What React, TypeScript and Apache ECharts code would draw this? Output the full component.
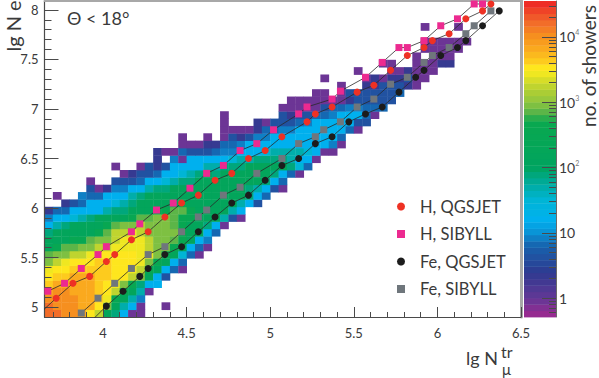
import React, { useEffect, useRef } from "react";
import * as echarts from "echarts";

const FONT = "Lato";
const TEXT = "#3a3a3a";

// Heat map: one string per row from the bottom, one letter per column, "." for an empty bin.
const heatRows: string[] = [
  "ttssrpnjifaa",
  "tsssrrpmjhfa..a",
  "ssssrrqokjhe",
  "rssrrrqpnkjha",
  "qrrrrrqpomkiff",
  "pqqrrrqqppnmjfc",
  "oppqqqqqpponkjfda",
  "mnopppqqpppomkjfd",
  "lmmnnopppppoomkjgda",
  "jkllmmnnoooonmmkjfda",
  "jjjkklmmnooonmmlkjfe",
  "ijjjjjklnnonmmmmkjjfd",
  "fhijjjjklmmnmmmlkjjifa",
  "effghijjjjkllmmlkkjjjhca",
  "bddffffhiijjjkkllkjjjjhf",
  "..bcdfffghijjjjjkjjjjjjhfc",
  ".a..eddfffhijjjjjjjjjjjjifd",
  ".....cabeeffhiijjjjjjjjjihfca",
  ".....a..cccdffghiijjjjjjjjifd",
  ".........abccdffghijijjjjjjifda",
  "........a..acbcffffhhiiijjjjjigd",
  ".............b.eafffffghhiiiihffa",
  ".............baadcccdeefffghhhhgfaa",
  "................aaabbddeffffffffffea",
  "................a..a.acbceeffffffffd",
  ".....................aaaabddeeffffffda",
  ".....................a...bacccdefffffcc",
  ".....................a......cbccddefffda",
  "............................aaaaacddeeddd",
  ".............................aaaaaaabccccc",
  "................................aa.accccccd",
  "...................................a..bbcccba",
  ".................................a....ababbcaa",
  ".....................................a...aabaaa",
  "........................................aa..aaabb",
  "............................................a.aaa",
  ".............................................aaaaa",
  ".............................................aaaaaa",
  "",
  ".............................................a...a",
];
const levelKeys = "abcdefghijklmnopqrst";
const levelCounts = [1, 2, 4, 6, 9, 16, 30, 50, 80, 150, 400, 700, 1000, 1600, 2500, 3200, 4500, 7000, 10000, 18000];

const H_QGS: number[][] = [
  [3.647, 4.977], [3.72, 5.09], [3.82, 5.24], [3.92, 5.31], [4.02, 5.46], [4.07, 5.53], [4.17, 5.68], [4.27, 5.76],
  [4.37, 5.91], [4.47, 6.05], [4.57, 6.13], [4.67, 6.28], [4.77, 6.35], [4.87, 6.5], [4.97, 6.58], [5.07, 6.72],
  [5.22, 6.87], [5.27, 6.95], [5.37, 7.02], [5.52, 7.17], [5.62, 7.24], [5.72, 7.39], [5.82, 7.54], [5.92, 7.62],
  [5.97, 7.69], [6.07, 7.76], [6.17, 7.91], [6.27, 7.99], [6.32, 8.06],
];
const H_SIB: number[][] = [
  [3.67, 5.16], [3.77, 5.24], [3.87, 5.39], [3.97, 5.53], [4.02, 5.61], [4.17, 5.76], [4.22, 5.84], [4.32, 5.98],
  [4.42, 6.05], [4.52, 6.2], [4.62, 6.35], [4.72, 6.43], [4.82, 6.58], [4.92, 6.65], [5.02, 6.79], [5.17, 6.95],
  [5.22, 7.02], [5.37, 7.1], [5.42, 7.18], [5.57, 7.32], [5.67, 7.47], [5.77, 7.62], [5.82, 7.62], [5.92, 7.69],
  [6.02, 7.84], [6.12, 7.91], [6.22, 8.06], [6.27, 8.06],
];
const FE_QGS: number[][] = [
  [3.93, 4.86], [4.02, 5.01], [4.12, 5.16], [4.22, 5.31], [4.27, 5.39], [4.37, 5.53], [4.47, 5.61], [4.57, 5.76],
  [4.67, 5.91], [4.77, 6.05], [4.87, 6.13], [4.97, 6.28], [5.07, 6.43], [5.17, 6.5], [5.27, 6.65], [5.37, 6.72],
  [5.47, 6.87], [5.57, 6.95], [5.67, 7.02], [5.77, 7.17], [5.87, 7.32], [5.92, 7.39], [6.02, 7.54], [6.12, 7.62],
  [6.17, 7.69], [6.27, 7.84], [6.37, 7.99],
];
const FE_SIB: number[][] = [
  [3.87, 4.94], [3.97, 5.09], [4.07, 5.24], [4.17, 5.39], [4.27, 5.53], [4.37, 5.61], [4.47, 5.76], [4.57, 5.91],
  [4.62, 5.98], [4.72, 6.13], [4.82, 6.21], [4.92, 6.35], [5.07, 6.5], [5.17, 6.65], [5.27, 6.72], [5.32, 6.79],
  [5.42, 6.87], [5.52, 7.02], [5.62, 7.1], [5.72, 7.25], [5.82, 7.32], [5.92, 7.47], [5.97, 7.54], [6.07, 7.62],
  [6.17, 7.76], [6.22, 7.84], [6.32, 7.99],
];

const xMajor = [4, 4.5, 5, 5.5, 6, 6.5];
const xMinor = [3.7, 3.8, 3.9, 4.1, 4.2, 4.3, 4.4, 4.6, 4.7, 4.8, 4.9, 5.1, 5.2, 5.3, 5.4, 5.6, 5.7, 5.8, 5.9, 6.1, 6.2, 6.3, 6.4];
const yMajor = [5, 5.5, 6, 6.5, 7, 7.5, 8];
const yMinor = [4.9, 5.1, 5.2, 5.3, 5.4, 5.6, 5.7, 5.8, 5.9, 6.1, 6.2, 6.3, 6.4, 6.6, 6.7, 6.8, 6.9, 7.1, 7.2, 7.3, 7.4, 7.6, 7.7, 7.8, 7.9];

const barMajor = [0, 1, 2, 3, 4];
const barMinorCounts = [
  0.6, 0.7, 0.8, 0.9, 2, 3, 4, 5, 6, 7, 8, 9, 20, 30, 40, 50, 60, 70, 80, 90, 200, 300, 400, 500, 600, 700, 800, 900,
  2000, 3000, 4000, 5000, 6000, 7000, 8000, 9000, 20000, 30000,
];
// Colour bar stops: [lg(count), r, g, b]
const barStops: number[][] = [
  [-0.29, 160, 40, 143], [0, 98, 56, 150], [0.4, 46, 58, 144], [0.8, 23, 99, 173], [1.0, 10, 146, 213], [1.2, 0, 176, 239],
  [1.5, 0, 181, 213], [1.75, 0, 171, 159], [2.0, 0, 164, 95], [2.7, 10, 168, 79], [2.85, 90, 180, 72], [3.0, 143, 197, 63],
  [3.2, 180, 208, 50], [3.4, 230, 226, 35], [3.5, 255, 240, 30], [3.62, 253, 205, 30], [3.8, 250, 172, 30], [4.0, 246, 146, 30],
  [4.25, 241, 102, 43], [4.55, 237, 34, 36],
];
const BAND_COUNT = 50;
const LG_MIN = -0.29;
const LG_MAX = 4.55;

const X_MIN = 3.65;
const X_MAX = 6.5;
const Y_MIN = 4.9;
const Y_MAX = 8.09;
const BIN_W = 0.05;
const BIN_H = (Y_MAX - Y_MIN) / 43;

function colorOf(lg: number): string {
  const s = barStops;
  let i = 0;
  while (i < s.length - 2 && lg > s[i + 1][0]) i++;
  const t = Math.min(1, Math.max(0, (lg - s[i][0]) / (s[i + 1][0] - s[i][0])));
  const c = [1, 2, 3].map((k) => Math.round(s[i][k] + (s[i + 1][k] - s[i][k]) * t));
  return `rgb(${c[0]},${c[1]},${c[2]})`;
}
function bandIndex(lg: number): number {
  return Math.min(BAND_COUNT - 1, Math.max(0, Math.floor(((lg - LG_MIN) / (LG_MAX - LG_MIN)) * BAND_COUNT)));
}
function bandColor(i: number): string {
  return colorOf(LG_MIN + ((i + 0.5) * (LG_MAX - LG_MIN)) / BAND_COUNT);
}

const heatCells: number[][] = [];
heatRows.forEach((row, r) => {
  for (let c = 0; c < row.length; c++) {
    const idx = levelKeys.indexOf(row[c]);
    if (idx >= 0) heatCells.push([X_MIN + c * BIN_W, Y_MIN + r * BIN_H, levelCounts[idx]]);
  }
});
const barBands: number[][] = [];
for (let i = 0; i < BAND_COUNT; i++) barBands.push([i]);

const tickLine = { show: true, lineStyle: { color: "#4a4a4a", width: 1 } };

function lineSeries(name: string, data: number[][], symbol: string, color: string, z: number) {
  return {
    name, type: "line", data, symbol, symbolSize: 7, showSymbol: true, z,
    xAxisIndex: 0, yAxisIndex: 0, clip: true, silent: true,
    lineStyle: { color: "#2a2a2a", width: 0.8 },
    itemStyle: { color, borderWidth: 0 },
  };
}

export default function App() {
  const ref = useRef<HTMLDivElement>(null);
  useEffect(() => {
    if (!ref.current) return;
    const chart = echarts.init(ref.current, undefined, { renderer: "svg" });
    chart.setOption({
      animation: false,
      backgroundColor: "#ffffff",
      textStyle: { fontFamily: FONT },
      grid: [
        { left: 44.5, top: 1, width: 476.5, height: 316 },
        { left: 524, top: 1, width: 32, height: 316 },
      ],
      xAxis: [
        {
          type: "value", gridIndex: 0, min: X_MIN, max: X_MAX, position: "bottom", z: 2, splitLine: { show: false },
          axisLine: { show: true, onZero: false, lineStyle: { color: "#4a4a4a", width: 1.2 } },
          axisTick: { ...tickLine, inside: true, length: 10, customValues: xMajor },
          axisLabel: { customValues: xMajor, margin: 9, fontSize: 13, color: TEXT, fontFamily: FONT, showMaxLabel: true },
        },
        {
          type: "value", gridIndex: 0, min: X_MIN, max: X_MAX, position: "bottom", z: 2, splitLine: { show: false },
          axisLine: { show: false, onZero: false },
          axisTick: { ...tickLine, inside: true, length: 5, customValues: xMinor },
          axisLabel: { show: false },
        },
        {
          type: "value", gridIndex: 0, min: X_MIN, max: X_MAX, position: "top", z: 2, splitLine: { show: false },
          axisLine: { show: true, onZero: false, lineStyle: { color: "#a8a8a8", width: 2 } },
          axisTick: { show: false }, axisLabel: { show: false },
        },
        { type: "value", gridIndex: 1, min: 0, max: BAND_COUNT, show: false },
      ],
      yAxis: [
        {
          type: "value", gridIndex: 0, min: Y_MIN, max: Y_MAX, position: "left", z: 2, splitLine: { show: false },
          axisLine: { show: true, onZero: false, lineStyle: { color: "#4a4a4a", width: 1.2 } },
          axisTick: { ...tickLine, inside: true, length: 14, customValues: yMajor },
          axisLabel: { customValues: yMajor, margin: 6, fontSize: 13, color: TEXT, fontFamily: FONT },
        },
        {
          type: "value", gridIndex: 0, min: Y_MIN, max: Y_MAX, position: "left", z: 2, splitLine: { show: false },
          axisLine: { show: false, onZero: false },
          axisTick: { ...tickLine, inside: true, length: 7, customValues: yMinor },
          axisLabel: { show: false },
        },
        {
          type: "value", gridIndex: 0, min: Y_MIN, max: Y_MAX, position: "right", z: 2, splitLine: { show: false },
          axisLine: { show: true, onZero: false, lineStyle: { color: "#a8a8a8", width: 3 } },
          axisTick: { show: false }, axisLabel: { show: false },
        },
        {
          type: "value", gridIndex: 1, min: LG_MIN, max: LG_MAX, position: "right", z: 2, splitLine: { show: false },
          axisLine: { show: true, onZero: false, lineStyle: { color: "#6a6a6a", width: 1 } },
          axisTick: { ...tickLine, inside: true, length: 14, customValues: barMajor },
          axisLabel: {
            customValues: barMajor, margin: 3, fontSize: 14, color: TEXT, fontFamily: FONT,
            formatter: (v: number) => (v === 0 ? "1" : v === 1 ? "10" : `10{sup|${v}}`),
            rich: { sup: { fontSize: 7, color: "#777", fontFamily: FONT, verticalAlign: "top", padding: [0, 0, 9, 0] } },
          },
        },
        {
          type: "value", gridIndex: 1, min: LG_MIN, max: LG_MAX, position: "right", z: 2, splitLine: { show: false },
          axisLine: { show: false, onZero: false },
          axisTick: { ...tickLine, inside: true, length: 7, customValues: barMinorCounts.map((n) => Math.log10(n)) },
          axisLabel: { show: false },
        },
      ],
      legend: {
        orient: "vertical", left: 397, top: 198, padding: 0, itemWidth: 8, itemHeight: 8, itemGap: 10.5,
        selectedMode: false,
        textStyle: { fontFamily: FONT, fontSize: 16.5, color: TEXT, padding: [0, 0, 0, 10] },
        data: [
          { name: "H, QGSJET", icon: "circle" },
          { name: "H, SIBYLL", icon: "rect" },
          { name: "Fe, QGSJET", icon: "circle" },
          { name: "Fe, SIBYLL", icon: "rect" },
        ],
      },
      series: [
        {
          type: "custom", xAxisIndex: 0, yAxisIndex: 0, z: 1, silent: true, clip: true, data: heatCells,
          encode: { x: 0, y: 1 },
          renderItem: (_p: any, api: any) => {
            const x = api.value(0), y = api.value(1);
            const a = api.coord([x, y + BIN_H]);
            const b = api.coord([x + BIN_W, y]);
            const lg = Math.log10(api.value(2));
            return {
              type: "rect",
              shape: { x: a[0], y: a[1], width: b[0] - a[0] + 0.4, height: b[1] - a[1] + 0.4 },
              style: { fill: bandColor(bandIndex(lg)) },
            };
          },
        },
        {
          type: "custom", xAxisIndex: 3, yAxisIndex: 3, z: 1, silent: true, data: barBands,
          encode: { y: 0 },
          renderItem: (_p: any, api: any) => {
            const i = api.value(0);
            const step = (LG_MAX - LG_MIN) / BAND_COUNT;
            const a = api.coord([0, LG_MIN + (i + 1) * step]);
            const b = api.coord([BAND_COUNT, LG_MIN + i * step]);
            return {
              type: "rect",
              shape: { x: a[0], y: a[1], width: b[0] - a[0], height: b[1] - a[1] + 0.4 },
              style: { fill: bandColor(i) },
            };
          },
        },
        lineSeries("H, SIBYLL", H_SIB, "rect", "#ec2a90", 3),
        lineSeries("Fe, SIBYLL", FE_SIB, "rect", "#6f767c", 3),
        lineSeries("H, QGSJET", H_QGS, "circle", "#ee3124", 4),
        lineSeries("Fe, QGSJET", FE_QGS, "circle", "#1c1c1c", 4),
      ],
      graphic: [
        { type: "text", x: 67, y: 18, silent: true, style: { text: "Θ < 18°", fontFamily: FONT, fontSize: 18, fill: TEXT, textAlign: "left", textVerticalAlign: "middle" } },
        { type: "text", x: 13, y: 26, rotation: Math.PI / 2, silent: true, style: { text: "lg N e", fontFamily: FONT, fontSize: 20, fill: TEXT, textAlign: "center", textVerticalAlign: "middle" } },
        { type: "text", x: 588, y: 66, rotation: Math.PI / 2, silent: true, style: { text: "no. of showers", fontFamily: FONT, fontSize: 19, fill: TEXT, textAlign: "center", textVerticalAlign: "middle" } },
        { type: "text", x: 466, y: 358, silent: true, style: { text: "lg N", fontFamily: FONT, fontSize: 18, fill: TEXT, textAlign: "left", textVerticalAlign: "middle" } },
        { type: "text", x: 502, y: 369, silent: true, style: { text: "μ", fontFamily: FONT, fontSize: 15, fill: TEXT, textAlign: "left", textVerticalAlign: "middle" } },
        { type: "text", x: 501, y: 351, silent: true, style: { text: "tr", fontFamily: FONT, fontSize: 16, fill: TEXT, textAlign: "left", textVerticalAlign: "middle" } },
      ],
    });
    return () => chart.dispose();
  }, []);
  return <div ref={ref} style={{ position: "absolute", left: 0, top: 0, width: 599, height: 378 }} />;
}
